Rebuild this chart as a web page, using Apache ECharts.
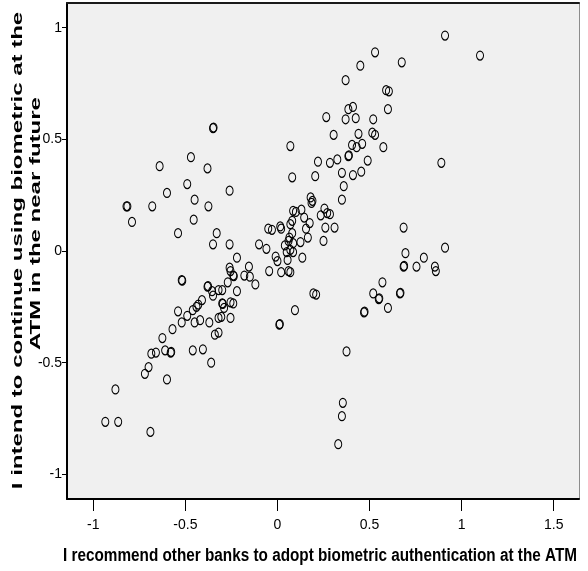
<!DOCTYPE html>
<html>
<head>
<meta charset="utf-8">
<script src="https://cdn.jsdelivr.net/npm/echarts@6/dist/echarts.min.js"></script>
<style>
  html, body { margin: 0; padding: 0; background: #ffffff; }
  #chart { width: 588px; height: 571px; }
</style>
</head>
<body>
<div id="chart"></div>
<script>
// Factor scores per respondent: recommendation (x) vs. intention to continue (y)
const recommendX = [
  -0.35, -0.347, -0.47, -0.64, -0.38, -0.49, -0.60, -0.26, -0.45, -0.82,
  -0.815, -0.68, -0.375, -0.79, -0.455, -0.54, -0.33, -0.35, -0.26, -0.10,
  -0.06, -0.05, -0.03, -0.22, -0.26, -0.255, -0.24, -0.237, -0.18, -0.155,
  -0.15, -0.12, -0.52, -0.517, -0.27, -0.38, -0.377, -0.355, -0.35, -0.32,
  -0.30, -0.22, -0.41, -0.43, -0.44, -0.30, -0.297, -0.29, -0.255, -0.24,
  -0.54, -0.49, -0.46, -0.52, -0.45, -0.42, -0.37, -0.32, -0.305, -0.255,
  -0.34, -0.32, -0.57, -0.625, -0.685, -0.66, -0.61, -0.58, -0.577, -0.46,
  -0.405, -0.36, -0.70, -0.72, -0.60, -0.88, -0.935, -0.865, -0.69, -0.045,
  -0.01, 0.0, 0.02, 0.06, 0.07, 0.055, 0.04, 0.06, 0.065, 0.07,
  0.05, 0.085, 0.085, 0.015, 0.02, 0.07, 0.08, 0.08, 0.085, 0.10,
  0.13, 0.145, 0.125, 0.135, 0.165, 0.175, 0.155, 0.18, 0.19, 0.185,
  0.235, 0.255, 0.27, 0.285, 0.26, 0.31, 0.25, 0.35, 0.36, 0.35,
  0.41, 0.455, 0.205, 0.08, 0.22, 0.285, 0.325, 0.49, 0.385, 0.388,
  0.07, 0.405, 0.43, 0.46, 0.575, 0.305, 0.44, 0.515, 0.53, 0.265,
  0.37, 0.425, 0.52, 0.385, 0.41, 0.60, 0.59, 0.605, 0.37, 0.45,
  0.53, 0.675, 0.91, 1.10, 0.89, 0.01, 0.013, 0.095, 0.195, 0.21,
  0.375, 0.355, 0.35, 0.33, 0.685, 0.91, 0.695, 0.795, 0.755, 0.685,
  0.688, 0.855, 0.86, 0.57, 0.52, 0.55, 0.553, 0.665, 0.668, 0.60,
  0.47, 0.473
];
const continueY = [
  0.55, 0.553, 0.42, 0.38, 0.37, 0.30, 0.26, 0.27, 0.23, 0.20,
  0.20, 0.20, 0.20, 0.13, 0.14, 0.08, 0.08, 0.03, 0.03, 0.03,
  0.01, 0.10, 0.095, -0.03, -0.075, -0.09, -0.11, -0.112, -0.11, -0.07,
  -0.115, -0.15, -0.13, -0.133, -0.14, -0.16, -0.157, -0.18, -0.20, -0.175,
  -0.175, -0.18, -0.22, -0.24, -0.25, -0.235, -0.237, -0.255, -0.23, -0.235,
  -0.27, -0.29, -0.265, -0.32, -0.32, -0.31, -0.32, -0.30, -0.295, -0.30,
  -0.375, -0.365, -0.35, -0.39, -0.46, -0.455, -0.445, -0.455, -0.452, -0.445,
  -0.44, -0.50, -0.52, -0.55, -0.575, -0.62, -0.765, -0.765, -0.81, -0.09,
  -0.025, -0.045, -0.095, -0.09, -0.095, -0.04, 0.025, 0.045, 0.06, 0.005,
  -0.005, -0.005, 0.035, 0.11, 0.10, 0.12, 0.135, 0.08, 0.18, 0.175,
  0.185, 0.15, 0.04, -0.03, 0.06, 0.125, 0.10, 0.24, 0.225, 0.215,
  0.16, 0.19, 0.17, 0.165, 0.105, 0.105, 0.045, 0.23, 0.29, 0.35,
  0.34, 0.355, 0.335, 0.33, 0.40, 0.395, 0.41, 0.405, 0.425, 0.428,
  0.47, 0.475, 0.465, 0.48, 0.465, 0.52, 0.525, 0.53, 0.52, 0.60,
  0.59, 0.595, 0.59, 0.635, 0.645, 0.635, 0.72, 0.715, 0.765, 0.83,
  0.89, 0.845, 0.965, 0.875, 0.395, -0.33, -0.327, -0.265, -0.19, -0.195,
  -0.45, -0.68, -0.74, -0.865, 0.105, 0.015, -0.01, -0.03, -0.07, -0.07,
  -0.067, -0.07, -0.09, -0.14, -0.19, -0.215, -0.212, -0.19, -0.187, -0.255,
  -0.275, -0.272
];

const xTickValues = [-1, -0.5, 0, 0.5, 1, 1.5];
const yTickValues = [-1, -0.5, 0, 0.5, 1];

const xTitle = 'I recommend other banks to adopt biometric authentication at the ATM';
const yTitleLines = ['I intend to continue using biometric at the', 'ATM in the near future'];

// Axis ranges
const X_MIN = -1.143, X_MAX = 1.6375;
const Y_MIN = -1.1106, Y_MAX = 1.1106;

const points = recommendX.map((x, i) => [x, continueY[i]]);

const narrowFont = '"Liberation Sans Narrow", "Liberation Sans", Arial, sans-serif';
const boldFont = '"Liberation Sans", Arial, sans-serif';

const chart = echarts.init(document.getElementById('chart'), null, { renderer: 'canvas' });

const hiddenAxis = {
  axisTick: { show: false },
  axisLabel: { show: false },
  splitLine: { show: false }
};

chart.setOption({
  animation: false,
  backgroundColor: '#ffffff',
  grid: {
    left: 67, right: 9, top: 3, bottom: 72,
    show: true, backgroundColor: '#f0f0f0', borderWidth: 0
  },
  xAxis: [
    {
      type: 'value', min: X_MIN, max: X_MAX, position: 'bottom',
      axisLine: { onZero: false, lineStyle: { color: '#000', width: 2 } },
      axisTick: { customValues: xTickValues, length: 12, lineStyle: { color: '#000', width: 1 } },
      axisLabel: { customValues: xTickValues, margin: 19, color: '#000', fontSize: 14, fontFamily: narrowFont },
      splitLine: { show: false }
    },
    Object.assign({
      type: 'value', min: X_MIN, max: X_MAX, position: 'top',
      axisLine: { onZero: false, lineStyle: { color: '#1a1a1a', width: 2 } }
    }, hiddenAxis)
  ],
  yAxis: [
    {
      type: 'value', min: Y_MIN, max: Y_MAX, position: 'left',
      axisLine: { onZero: false, lineStyle: { color: '#000', width: 2 } },
      axisTick: { customValues: yTickValues, length: 5, lineStyle: { color: '#000', width: 1 } },
      axisLabel: { customValues: yTickValues, margin: 5, color: '#000', fontSize: 14, fontFamily: narrowFont },
      splitLine: { show: false }
    },
    Object.assign({
      type: 'value', min: Y_MIN, max: Y_MAX, position: 'right',
      axisLine: { onZero: false, lineStyle: { color: '#8c8c8c', width: 1 } }
    }, hiddenAxis)
  ],
  graphic: [
    {
      type: 'text', x: 320, y: 556, scaleX: 0.85, scaleY: 1,
      style: { text: xTitle, font: 'bold 18px ' + boldFont, fill: '#000', textAlign: 'center', textVerticalAlign: 'middle' }
    },
    {
      type: 'text', x: 18, y: 250.5, rotation: Math.PI / 2, scaleX: 1, scaleY: 0.64,
      style: { text: yTitleLines[0], font: 'bold 24px ' + boldFont, fill: '#000', textAlign: 'center', textVerticalAlign: 'middle' }
    },
    {
      type: 'text', x: 36, y: 223.5, rotation: Math.PI / 2, scaleX: 1, scaleY: 0.64,
      style: { text: yTitleLines[1], font: 'bold 24px ' + boldFont, fill: '#000', textAlign: 'center', textVerticalAlign: 'middle' }
    }
  ],
  series: [
    {
      type: 'scatter',
      xAxisIndex: 0, yAxisIndex: 0,
      data: points,
      symbol: 'path://M5,0 A5,5 0 1,1 5,10 A5,5 0 1,1 5,0 Z',
      symbolSize: [7, 9],
      itemStyle: { color: 'rgba(0,0,0,0)', borderColor: '#000', borderWidth: 1.1, opacity: 1 },
      emphasis: { disabled: true },
      silent: true
    }
  ]
});
</script>
</body>
</html>
